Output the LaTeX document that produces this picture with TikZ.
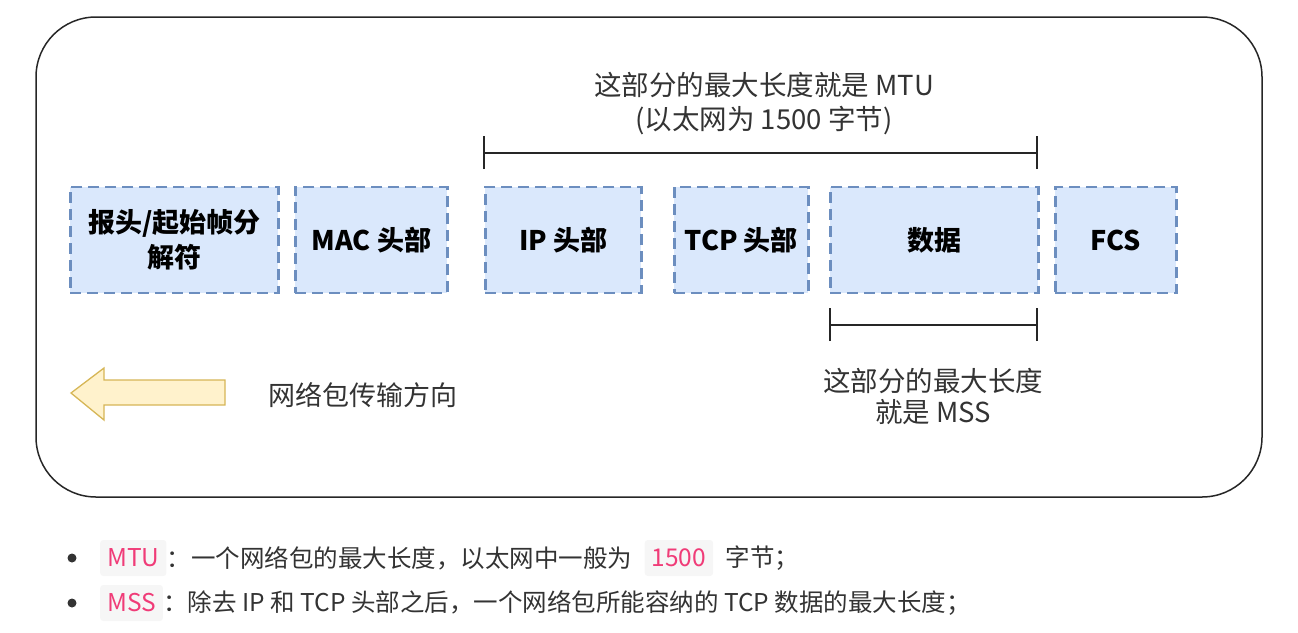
\documentclass[tikz,border=0pt]{standalone}
\usepackage{fontspec}
\setmainfont{Noto Sans CJK SC}
\definecolor{boxfill}{HTML}{DAE8FC}
\definecolor{boxline}{HTML}{6C8EBF}
\definecolor{arrfill}{HTML}{FFF2CC}
\definecolor{arrline}{HTML}{D6B656}
\definecolor{codepink}{HTML}{F03C78}
\definecolor{codebg}{HTML}{F6F6F6}
\definecolor{txt}{HTML}{333333}
\begin{document}
\begin{tikzpicture}[x=1pt,y=-1pt,
  seg/.style={draw=boxline,fill=boxfill,dash pattern=on 11pt off 6pt,line width=2.8pt,minimum height=106pt,inner sep=0pt,font=\bfseries\fontsize{27}{35}\selectfont,align=center,anchor=west},
  lbl/.style={font=\fontsize{27}{33}\selectfont,align=center,text=txt},
  brk/.style={line width=1.3pt,draw=black!85},
  code/.style={fill=codebg,rounded corners=3pt,text=codepink,inner xsep=7pt,minimum height=36pt,font=\fontsize{24.5}{27}\selectfont},
  btxt/.style={text=txt,font=\fontsize{24.5}{27}\selectfont,inner sep=0pt}]
\useasboundingbox (0,0) rectangle (1298,632);
\draw[line width=1.5pt,draw=black!85,rounded corners=60pt] (36,17) rectangle (1262,497);
\node[seg,minimum width=208pt] (b1) at (69,240) {报头/起始帧分\\解符};
\node[seg,minimum width=152pt] (b2) at (294,240) {MAC 头部};
\node[seg,minimum width=156pt] (b3) at (484,240) {IP 头部};
\node[seg,minimum width=134pt] (b4) at (673,240) {TCP 头部};
\node[seg,minimum width=208pt] (b5) at (829,240) {数据};
\node[seg,minimum width=121pt] (b6) at (1054,240) {FCS};
% MTU bracket
\coordinate (m1) at (484,153);
\coordinate (m2) at (1037,153);
\draw[brk] (m1) -- (m2);
\draw[brk] ([yshift=-16pt]m1) -- ([yshift=17pt]m1);
\draw[brk] ([yshift=-16pt]m2) -- ([yshift=17pt]m2);
\node[lbl,font=\fontsize{27.5}{34}\selectfont] (mtu) at (764,104) {这部分的最大长度就是 MTU\\(以太网为 1500 字节)};
% MSS bracket
\coordinate (s1) at (830,325);
\coordinate (s2) at (1037,325);
\draw[brk] (s1) -- (s2);
\draw[brk] ([yshift=-16pt]s1) -- ([yshift=17pt]s1);
\draw[brk] ([yshift=-16pt]s2) -- ([yshift=17pt]s2);
\node[lbl,font=\fontsize{27.5}{31}\selectfont] (mss) at (933,396) {这部分的最大长度\\就是 MSS};
% direction arrow
\draw[draw=arrline,fill=arrfill,line width=1.3pt,line join=miter]
  (71,393) -- (104,368) -- (104,380) -- (225,380) -- (225,405) -- (104,405) -- (104,420) -- cycle;
\node[lbl,anchor=west] (dir) at (265,395) {网络包传输方向};
% bullets
\fill[txt] (72,558) circle (4.5pt);
\fill[txt] (72,603) circle (4.5pt);
\node[code,anchor=west] (c1) at (100,558) {MTU};
\node[btxt,anchor=west] (t1) at (c1.east) {：一个网络包的最大长度，以太网中一般为};
\node[code,anchor=west] (c2) at ([xshift=12pt]t1.east) {1500};
\node[btxt,anchor=west] (t2) at ([xshift=12pt]c2.east) {字节；};
\node[code,anchor=west] (c3) at (100,603) {MSS};
\node[btxt,anchor=west] (t3) at (c3.east) {：除去 IP 和 TCP 头部之后，一个网络包所能容纳的 TCP 数据的最大长度；};
\end{tikzpicture}
\end{document}
